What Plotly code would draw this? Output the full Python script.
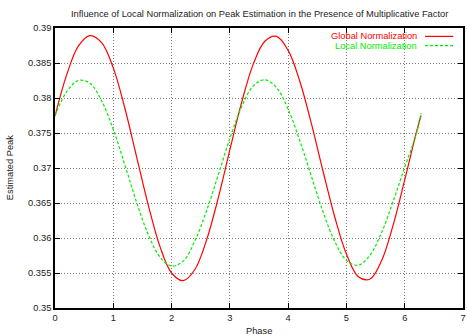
import plotly.graph_objects as go

# Phase samples (radians) and estimated peak values for each normalization
phase = [0.0, 0.2, 0.4, 0.6, 0.8, 1.0, 1.2, 1.4, 1.6, 1.8, 2.0, 2.2, 2.4, 2.6,
         2.8, 3.0, 3.2, 3.4, 3.6, 3.8, 4.0, 4.2, 4.4, 4.6, 4.8, 5.0, 5.2, 5.4,
         5.6, 5.8, 6.0, 6.2, 6.28]
global_norm = [0.3774, 0.3833, 0.3874, 0.3889, 0.3879, 0.3843, 0.3785, 0.3716,
               0.3647, 0.3588, 0.3550, 0.3539, 0.3555, 0.3597, 0.3657, 0.3726,
               0.3793, 0.3848, 0.3881, 0.3888, 0.3868, 0.3824, 0.3763, 0.3695,
               0.3630, 0.3577, 0.3545, 0.3541, 0.3567, 0.3618, 0.3683, 0.3751,
               0.3775]
local_norm = [0.3775, 0.3809, 0.3825, 0.3821, 0.3796, 0.3755, 0.3704, 0.3651,
              0.3605, 0.3573, 0.3560, 0.3567, 0.3596, 0.3639, 0.3690, 0.3742,
              0.3787, 0.3817, 0.3826, 0.3815, 0.3784, 0.3739, 0.3688, 0.3637,
              0.3595, 0.3568, 0.3561, 0.3575, 0.3607, 0.3652, 0.3701, 0.3749,
              0.3778]

x_ticks = [0, 1, 2, 3, 4, 5, 6, 7]
y_ticks = [0.35, 0.355, 0.36, 0.365, 0.37, 0.375, 0.38, 0.385, 0.39]
y_labels = ["0.35", "0.355", "0.36", "0.365", "0.37", "0.375", "0.38", "0.385", "0.39"]

RED = "#ff0000"
GREEN = "#00ee00"
FONT = "Liberation Sans, Arial, sans-serif"
FS = 9.3

fig = go.Figure()
fig.add_trace(go.Scatter(x=phase, y=global_norm, mode="lines",
                         name="Global Normalization",
                         line=dict(color=RED, width=1.2, shape="spline", smoothing=1.0)))
fig.add_trace(go.Scatter(x=phase, y=local_norm, mode="lines",
                         name="Local Normalization",
                         line=dict(color=GREEN, width=1.2, dash="3px,2px",
                                   shape="spline", smoothing=1.0)))

axis_common = dict(
    showline=True, linecolor="black", linewidth=1.5, mirror="ticks",
    ticks="inside", ticklen=5, tickcolor="black", tickwidth=1,
    showgrid=True, gridcolor="#7a7a7a", gridwidth=1, griddash="1px,2px",
    zeroline=False, tickfont=dict(family=FONT, size=FS, color="#222"),
)

fig.update_xaxes(range=[0, 7], tickvals=x_ticks, **axis_common)
fig.update_yaxes(range=[0.35, 0.39], tickvals=y_ticks, ticktext=y_labels, **axis_common)

annotations = [
    dict(text="Influence of Local Normalization on Peak Estimation in the Presence of Multiplicative Factor",
         x=0.5, y=1.049, xref="paper", yref="paper", showarrow=False,
         xanchor="center", yanchor="middle", font=dict(family=FONT, size=FS, color="#222")),
    dict(text="Phase", x=0.5, y=-0.082, xref="paper", yref="paper", showarrow=False,
         xanchor="center", yanchor="middle", font=dict(family=FONT, size=FS, color="#222")),
    dict(text="Estimated Peak", x=-0.1098, y=0.5, xref="paper", yref="paper", showarrow=False,
         textangle=-90, xanchor="center", yanchor="middle",
         font=dict(family=FONT, size=FS, color="#222")),
    dict(text="Global Normalization", x=0.892, y=0.970, xref="paper", yref="paper",
         showarrow=False, xanchor="right", yanchor="middle",
         font=dict(family=FONT, size=FS, color=RED)),
    dict(text="Local Normalization", x=0.892, y=0.937, xref="paper", yref="paper",
         showarrow=False, xanchor="right", yanchor="middle",
         font=dict(family=FONT, size=FS, color=GREEN)),
]

# Legend line samples drawn to the right of the labels
shapes = [
    dict(type="line", xref="paper", yref="paper", x0=0.907, x1=0.976, y0=0.970, y1=0.970,
         line=dict(color=RED, width=1.2)),
    dict(type="line", xref="paper", yref="paper", x0=0.907, x1=0.976, y0=0.937, y1=0.937,
         line=dict(color=GREEN, width=1.2, dash="3px,2px")),
]

fig.update_layout(
    width=467, height=335,
    margin=dict(l=55, r=2, t=28, b=27),
    paper_bgcolor="white", plot_bgcolor="white",
    showlegend=False,
    annotations=annotations, shapes=shapes,
)

fig.write_html("out.html")
